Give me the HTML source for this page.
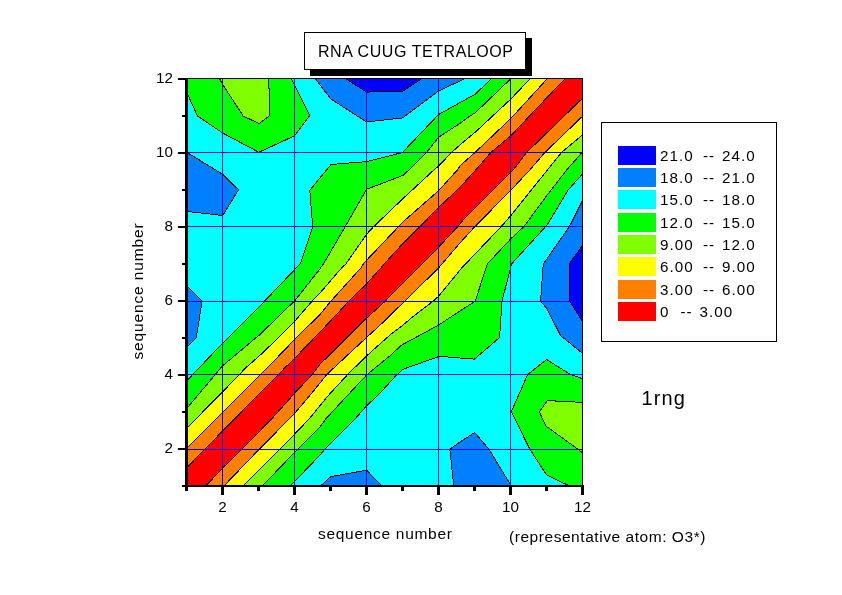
<!DOCTYPE html>
<html><head><meta charset="utf-8"><title>RNA CUUG TETRALOOP</title>
<style>
html,body{margin:0;padding:0;background:#fff;}
body{width:842px;height:595px;position:relative;overflow:hidden;font-family:"Liberation Sans",Arial,sans-serif;color:#000;}
.t{position:absolute;white-space:pre;line-height:1;}
.tk{font-size:15.2px;}
.lg{font-size:15.2px;letter-spacing:1.05px;}
.sw{position:absolute;left:618px;width:38px;height:19px;}
</style></head><body>

<svg width="842" height="595" viewBox="0 0 842 595" style="position:absolute;left:0;top:0">
<defs><clipPath id="cp"><rect x="187" y="79" width="396" height="406"/></clipPath></defs>
<rect x="187" y="79" width="396" height="407" fill="#00ffff"/>
<g clip-path="url(#cp)" stroke="#000" stroke-width="1" stroke-linejoin="round" shape-rendering="crispEdges">
<polygon fill="#00ff00" points="178.0,70.0 178.0,92.8 187.0,92.8 197.5,116.0 222.5,132.9 258.8,152.3 294.5,135.8 309.8,115.5 291.5,79.0 291.5,70.0"/>
<polygon fill="#00ff00" points="592.0,495.0 569.6,495.0 569.6,486.0 546.6,474.9 529.9,449.4 511.3,411.5 518.0,396.5 527.7,374.5 546.6,359.5 570.1,374.3 583.0,378.9 592.0,378.9"/>
<polygon fill="#0080ff" points="178.0,152.4 187.0,152.4 222.5,174.2 238.6,189.8 222.7,215.5 187.0,211.4 178.0,211.4"/>
<polygon fill="#0080ff" points="178.0,286.1 187.0,286.1 202.1,301.0 196.3,338.0 187.0,346.9 178.0,346.9"/>
<polygon fill="#0080ff" points="315.5,70.0 315.5,79.0 330.9,99.0 366.6,122.0 402.4,118.0 438.5,91.0 464.3,79.0 464.3,70.0"/>
<polygon fill="#0080ff" points="592.0,199.6 583.0,199.6 569.5,226.4 543.2,264.2 540.6,301.3 546.5,308.0 560.6,335.6 583.0,353.8 592.0,353.8"/>
<polygon fill="#0080ff" points="320.6,495.0 320.6,486.0 330.8,476.6 366.6,470.2 381.8,486.0 381.8,495.0"/>
<polygon fill="#0080ff" points="453.8,495.0 453.8,486.0 449.8,449.2 460.0,442.0 474.6,432.5 489.1,449.4 511.3,486.0 511.3,495.0"/>
<polygon fill="#80ff00" points="219.7,70.0 219.7,79.0 222.5,84.2 243.2,116.0 259.1,123.6 269.9,115.5 268.7,79.0 268.7,70.0"/>
<polygon fill="#80ff00" points="592.0,402.4 583.0,402.4 547.5,400.6 539.3,411.7 545.7,425.8 583.0,453.0 592.0,453.0"/>
<polygon fill="#0000ff" points="346.3,70.0 346.3,79.0 366.6,92.1 403.0,91.1 421.2,79.0 421.2,70.0"/>
<polygon fill="#0000ff" points="592.0,244.9 583.0,244.9 569.4,263.6 569.9,301.2 583.0,322.3 592.0,322.3"/>
<polygon fill="#00ff00" points="178.0,380.5 187.0,380.5 200.0,367.0 222.5,343.2 228.3,338.0 259.0,307.1 264.6,301.0 295.0,269.3 300.2,264.0 312.7,227.0 309.8,190.3 331.0,164.5 366.6,161.6 402.5,152.5 438.5,114.6 475.3,94.1 491.3,79.0 491.3,70.0 592.0,70.0 592.0,173.4 583.0,173.4 568.5,189.5 547.5,224.5 511.5,264.0 502.0,301.2 499.6,337.5 474.5,359.1 460.0,358.0 439.5,356.3 403.2,369.2 395.7,375.9 378.3,395.0 366.6,405.8 354.9,419.0 324.7,449.4 320.0,455.0 294.6,481.6 289.6,486.0 289.6,495.0 178.0,495.0"/>
<polygon fill="#80ff00" points="178.0,408.2 187.0,408.2 222.5,365.9 255.7,338.0 259.0,335.4 295.0,300.5 320.0,268.8 323.3,264.0 330.8,251.4 345.0,227.0 366.6,189.3 403.2,175.3 409.9,169.0 426.5,152.5 438.5,137.4 460.0,123.3 470.0,116.0 475.0,113.0 510.5,79.0 510.5,70.0 592.0,70.0 592.0,151.4 583.0,151.4 567.5,169.0 547.0,195.3 524.1,226.4 510.8,238.8 487.4,263.8 475.2,301.2 460.0,311.0 450.8,317.0 438.6,325.1 401.6,345.1 390.0,355.8 366.6,375.0 347.9,395.0 325.7,419.0 320.0,427.0 297.4,449.4 294.6,452.4 262.2,486.0 262.2,495.0 178.0,495.0"/>
<polygon fill="#ffff00" points="178.0,427.9 187.0,427.9 222.5,392.0 246.6,367.0 259.0,356.2 278.2,338.0 295.0,320.9 312.3,301.0 320.0,293.0 341.6,268.0 345.8,264.0 366.6,234.3 373.3,227.0 403.0,198.6 434.9,169.0 439.0,165.7 451.5,152.5 460.0,144.9 475.0,132.4 510.8,99.1 529.9,79.0 529.9,70.0 592.0,70.0 592.0,134.5 583.0,134.5 561.5,152.5 548.2,169.0 510.8,215.6 500.8,227.0 461.7,268.0 438.6,296.2 433.3,301.0 412.5,317.0 403.0,325.1 390.0,335.0 366.6,355.9 347.8,374.4 328.3,395.5 309.1,419.0 294.6,434.1 279.9,449.4 243.1,486.0 243.1,495.0 178.0,495.0"/>
<polygon fill="#ff8000" points="178.0,448.0 187.0,448.0 222.5,412.5 268.2,367.0 295.0,339.0 320.0,314.5 331.0,301.0 360.8,268.0 363.3,264.0 366.6,260.2 398.2,227.0 403.0,221.9 439.0,190.3 458.2,169.0 460.0,165.7 475.0,152.5 511.0,118.3 547.0,79.0 547.0,70.0 592.0,70.0 592.0,115.8 583.0,115.8 544.9,152.5 530.7,169.0 510.8,190.3 474.5,227.0 460.0,243.0 438.6,267.9 405.0,301.0 388.3,317.0 385.7,320.0 366.6,337.4 326.9,374.4 311.5,393.5 294.6,413.5 259.1,449.4 223.9,486.0 223.9,495.0 178.0,495.0"/>
<polygon fill="#ff0000" points="178.0,467.5 187.0,467.5 205.0,449.0 222.5,431.1 285.7,367.0 295.0,357.9 320.0,332.1 349.1,301.0 366.6,283.8 380.8,268.0 384.1,264.0 403.0,243.4 419.5,227.0 438.5,207.6 460.0,187.3 476.6,169.0 490.8,152.5 510.8,135.8 547.0,97.5 564.9,79.0 564.9,70.0 592.0,70.0 592.0,97.8 583.0,97.8 526.6,152.5 514.0,169.0 510.8,172.0 464.9,218.0 457.8,226.5 438.6,247.2 418.2,268.0 389.9,296.0 385.5,301.0 366.6,318.0 320.0,364.3 312.4,374.4 294.6,393.2 271.6,419.0 241.6,449.4 222.5,468.2 205.7,486.0 205.7,495.0 178.0,495.0"/>
</g>
<g stroke="#0000ff" stroke-width="1" shape-rendering="crispEdges">
<line x1="222.5" y1="79" x2="222.5" y2="485"/>
<line x1="294.5" y1="79" x2="294.5" y2="485"/>
<line x1="366.5" y1="79" x2="366.5" y2="485"/>
<line x1="438.5" y1="79" x2="438.5" y2="485"/>
<line x1="510.5" y1="79" x2="510.5" y2="485"/>
<line x1="188" y1="449.5" x2="582" y2="449.5"/>
<line x1="188" y1="374.5" x2="582" y2="374.5"/>
<line x1="188" y1="301.5" x2="582" y2="301.5"/>
<line x1="188" y1="226.5" x2="582" y2="226.5"/>
<line x1="188" y1="152.5" x2="582" y2="152.5"/>
</g>
<g fill="#000" shape-rendering="crispEdges">
<rect x="185" y="78" width="3" height="409"/>
<rect x="185" y="485" width="399" height="2"/>
<rect x="185" y="78" width="398" height="1"/>
<rect x="582" y="78" width="1" height="409"/>
<rect x="185.0" y="486" width="3" height="5"/>
<rect x="221.0" y="486" width="3" height="9"/>
<rect x="257.0" y="486" width="3" height="5"/>
<rect x="293.0" y="486" width="3" height="9"/>
<rect x="329.0" y="486" width="3" height="5"/>
<rect x="365.0" y="486" width="3" height="9"/>
<rect x="401.0" y="486" width="3" height="5"/>
<rect x="437.0" y="486" width="3" height="9"/>
<rect x="473.0" y="486" width="3" height="5"/>
<rect x="509.0" y="486" width="3" height="9"/>
<rect x="545.0" y="486" width="3" height="5"/>
<rect x="581.0" y="486" width="3" height="9"/>
<rect x="182.0" y="485.0" width="3" height="2"/>
<rect x="178.0" y="448.0" width="7" height="2"/>
<rect x="182.0" y="411.0" width="3" height="2"/>
<rect x="178.0" y="374.0" width="7" height="2"/>
<rect x="182.0" y="337.0" width="3" height="2"/>
<rect x="178.0" y="300.0" width="7" height="2"/>
<rect x="182.0" y="263.0" width="3" height="2"/>
<rect x="178.0" y="226.0" width="7" height="2"/>
<rect x="182.0" y="189.0" width="3" height="2"/>
<rect x="178.0" y="152.0" width="7" height="2"/>
<rect x="182.0" y="115.0" width="3" height="2"/>
<rect x="178.0" y="78.0" width="7" height="2"/>
</g>
</svg>
<div style="position:absolute;left:310px;top:38px;width:222px;height:38px;background:#000"></div>
<div style="position:absolute;left:304px;top:32px;width:220px;height:36px;background:#fff;border:1px solid #000"></div>
<div class="t" id="title" style="left:318px;top:43.5px;font-size:16px;letter-spacing:0.56px">RNA CUUG TETRALOOP</div>
<div style="position:absolute;left:601px;top:122px;width:174px;height:218px;border:1px solid #000;box-sizing:content-box;background:#fff"></div>
<div class="sw" style="top:146.0px;background:#0000ff"></div>
<div class="t lg" style="left:660px;top:147.6px">21.0</div>
<div class="t lg" style="left:703px;top:147.6px">--</div>
<div class="t lg" style="left:722px;top:147.6px">24.0</div>
<div class="sw" style="top:168.0px;background:#0080ff"></div>
<div class="t lg" style="left:660px;top:169.6px">18.0</div>
<div class="t lg" style="left:703px;top:169.6px">--</div>
<div class="t lg" style="left:722px;top:169.6px">21.0</div>
<div class="sw" style="top:190.0px;background:#00ffff"></div>
<div class="t lg" style="left:660px;top:191.6px">15.0</div>
<div class="t lg" style="left:703px;top:191.6px">--</div>
<div class="t lg" style="left:722px;top:191.6px">18.0</div>
<div class="sw" style="top:213.0px;background:#00ff00"></div>
<div class="t lg" style="left:660px;top:214.6px">12.0</div>
<div class="t lg" style="left:703px;top:214.6px">--</div>
<div class="t lg" style="left:722px;top:214.6px">15.0</div>
<div class="sw" style="top:235.0px;background:#80ff00"></div>
<div class="t lg" style="left:660px;top:236.6px">9.00</div>
<div class="t lg" style="left:703px;top:236.6px">--</div>
<div class="t lg" style="left:722px;top:236.6px">12.0</div>
<div class="sw" style="top:257.0px;background:#ffff00"></div>
<div class="t lg" style="left:660px;top:258.6px">6.00</div>
<div class="t lg" style="left:703px;top:258.6px">--</div>
<div class="t lg" style="left:722px;top:258.6px">9.00</div>
<div class="sw" style="top:280.0px;background:#ff8000"></div>
<div class="t lg" style="left:660px;top:281.6px">3.00</div>
<div class="t lg" style="left:703px;top:281.6px">--</div>
<div class="t lg" style="left:722px;top:281.6px">6.00</div>
<div class="sw" style="top:302.0px;background:#ff0000"></div>
<div class="t lg" style="left:660px;top:303.6px">0</div>
<div class="t lg" style="left:680.5px;top:303.6px">--</div>
<div class="t lg" style="left:699.5px;top:303.6px">3.00</div>
<div class="t tk" style="left:202.5px;top:499.2px;width:40px;text-align:center">2</div>
<div class="t tk" style="left:274.5px;top:499.2px;width:40px;text-align:center">4</div>
<div class="t tk" style="left:346.5px;top:499.2px;width:40px;text-align:center">6</div>
<div class="t tk" style="left:418.5px;top:499.2px;width:40px;text-align:center">8</div>
<div class="t tk" style="left:490.5px;top:499.2px;width:40px;text-align:center">10</div>
<div class="t tk" style="left:562.5px;top:499.2px;width:40px;text-align:center">12</div>
<div class="t tk" style="left:123px;top:439.8px;width:50px;text-align:right">2</div>
<div class="t tk" style="left:123px;top:365.8px;width:50px;text-align:right">4</div>
<div class="t tk" style="left:123px;top:291.8px;width:50px;text-align:right">6</div>
<div class="t tk" style="left:123px;top:217.8px;width:50px;text-align:right">8</div>
<div class="t tk" style="left:123px;top:143.8px;width:50px;text-align:right">10</div>
<div class="t tk" style="left:123px;top:69.8px;width:50px;text-align:right">12</div>
<div class="t" id="xl" style="left:318px;top:526px;font-size:15.5px;letter-spacing:0.7px">sequence number</div>
<div class="t" id="rep" style="left:509px;top:529px;font-size:15.5px;letter-spacing:0.55px">(representative atom: O3*)</div>
<div class="t" id="yl" style="left:145px;top:290.7px;font-size:15.5px;letter-spacing:0.87px;transform-origin:0 0;transform:rotate(-90deg) translate(-50%,-100%);">sequence number</div>
<div class="t" id="rng" style="left:641.5px;top:388.3px;font-size:20px;letter-spacing:1.15px">1rng</div>
</body></html>
